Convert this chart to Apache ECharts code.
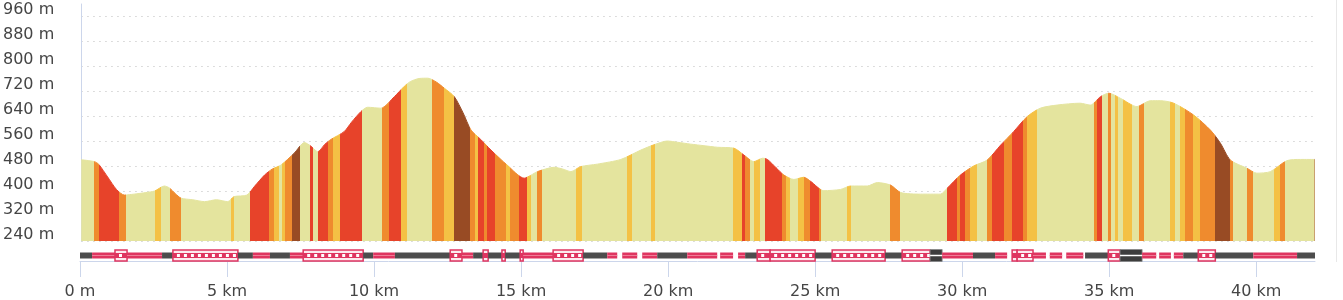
<!DOCTYPE html>
<html>
<head>
<meta charset="utf-8">
<script src="https://cdn.jsdelivr.net/npm/echarts@6/dist/echarts.min.js"></script>
<style>
html,body{margin:0;padding:0;background:#fff;}
#chart{width:1343px;height:300px;}
</style>
</head>
<body>
<div id="chart"></div>
<script>
// ---- data ----
var distanceKm = [0,0.45,0.6,0.9,1.2,1.47,1.8,2.2,2.5,2.83,3.0,3.2,3.4,3.8,4.2,4.6,4.99,5.2,5.64,5.9,6.24,6.5,6.8,7.25,7.6,7.8,8.05,8.3,8.5,8.95,9.2,9.52,9.75,10.2,10.66,11.0,11.2,11.5,11.8,12.1,12.36,12.7,13.0,13.27,13.6,13.95,14.5,15.08,15.3,15.53,16.1,16.4,16.67,17.0,17.57,18.37,19.05,19.5,19.95,20.3,20.75,21.2,21.66,22.22,22.56,22.9,23.2,23.36,23.65,23.92,24.26,24.6,24.83,25.28,25.85,26.19,26.76,27.1,27.55,27.9,28.57,29.25,29.48,29.93,30.38,30.84,31.3,31.74,32.2,32.65,33.22,34.0,34.35,34.7,34.98,35.37,35.94,36.39,36.73,37.19,37.87,38.44,38.78,39.12,39.68,40.02,40.48,41.04,41.5,42.0];
var elevationM = [500,494,485,445,405,387,390,395,400,416,410,392,377,372,366,372,366,382,387,415,451,470,483,521,555,545,526,550,565,590,620,654,668,665,702,735,750,760,761,748,729,702,650,595,565,531,483,441,450,462,476,470,462,478,486,501,531,548,560,556,550,545,540,537,515,494,505,501,475,451,437,444,431,401,405,416,416,427,419,395,390,390,409,451,480,499,547,590,638,665,675,681,675,702,713,697,670,689,689,681,643,595,553,499,473,457,462,497,501,501];

// gradient classes: 0 flat, 1 light, 2 medium, 3 steep, 4 very steep, 5 end
var bandStartKm = [0,0.44,0.59,1.29,1.52,2.52,2.70,3.02,3.39,5.09,5.20,5.74,6.39,6.56,6.73,6.85,6.95,7.17,7.45,7.78,7.88,8.05,8.40,8.58,8.80,9.57,10.25,10.48,10.87,11.10,11.95,12.35,12.69,13.25,13.42,13.50,13.70,13.80,14.10,14.45,14.60,14.90,15.17,15.30,15.50,15.68,16.85,17.05,18.57,18.74,19.38,19.52,22.20,22.50,22.60,22.75,22.90,23.10,23.29,23.85,24.00,24.12,24.40,24.60,24.82,25.10,25.20,26.07,26.20,27.54,27.88,29.47,29.81,29.93,30.10,30.27,30.49,30.83,31.00,31.40,31.68,32.07,32.20,32.55,34.46,34.57,34.74,34.97,35.07,35.20,35.30,35.48,35.76,36.00,36.18,37.06,37.23,37.40,37.57,37.86,38.08,38.59,39.10,39.22,39.70,39.88,40.60,40.80,40.98,41.95];
var bandClass   = [0,2,3,2,0,1,0,2,0,1,0,3,2,1,0,1,2,4,0,3,0,3,2,1,3,0,2,3,1,0,2,1,4,2,1,3,2,3,2,1,2,3,1,0,2,0,1,0,1,0,1,0,1,3,2,0,1,0,3,2,1,0,1,2,3,2,0,1,0,2,0,3,2,3,2,1,0,2,3,2,3,2,1,0,2,3,0,2,0,1,0,1,0,2,0,1,0,1,2,1,2,4,2,0,2,0,1,2,0,5];
var bandColors = ['#e4e49e','#f4c145','#ef8b2e','#e7432a','#984b24','#c9a070'];

// surface strip: 0 asphalt, 1 path, 2 boxed, 3 grey boxed
var surfaceStartKm = [0,0.41,1.19,1.6,2.79,3.16,5.37,5.88,6.46,7.14,7.59,9.63,9.97,10.71,12.59,12.99,13.37,13.71,13.88,14.35,14.46,14.97,15.07,16.09,17.11,17.93,18.44,19.12,19.63,20.65,21.77,22.38,22.62,23.03,23.47,25.0,25.58,27.38,27.96,28.91,29.32,30.37,31.12,31.70,31.87,32.41,32.98,33.54,34.18,34.97,35.37,36.12,36.70,37.20,37.52,38.03,38.61,39.9,41.39];
var surfaceEndKm   = [0.41,1.19,1.6,2.79,3.16,5.37,5.88,6.46,7.14,7.59,9.63,9.97,10.71,12.59,12.99,13.37,13.71,13.88,14.35,14.46,14.97,15.07,16.09,17.11,17.93,18.27,18.95,19.63,20.65,21.67,22.21,22.62,23.03,23.47,25.0,25.58,27.38,27.96,28.91,29.32,30.37,31.12,31.53,31.87,32.41,32.85,33.40,34.12,34.97,35.37,36.12,36.60,37.10,37.52,38.03,38.61,39.9,41.39,42.0];
var surfaceType    = [0,1,2,1,0,2,0,1,0,1,2,0,1,0,2,1,0,2,0,2,0,2,1,2,0,1,1,1,0,1,1,1,0,2,2,0,2,0,2,3,1,0,1,2,2,1,1,1,0,2,3,1,1,1,0,2,0,1,0];

var yTicks = [240,320,400,480,560,640,720,800,880,960];
var xTicksKm = [0,5,10,15,20,25,30,35,40];

// ---- build ----
var profile = distanceKm.map(function(d,i){return [d, elevationM[i]];});
var pieces = bandStartKm.map(function(s,i){
  var e = i < bandStartKm.length-1 ? bandStartKm[i+1] : 1000;
  return {gte: s, lt: e, color: bandColors[bandClass[i]]};
});
var surface = surfaceStartKm.map(function(s,i){return [s, surfaceEndKm[i], surfaceType[i]];});

var PINK = '#df3560', GREY = '#4d4d4d';
function renderSurface(params, api){
  var s = api.value(0), e = api.value(1), t = api.value(2);
  var p1 = api.coord([s, 0.5]), p2 = api.coord([e, 0.5]);
  var x = p1[0], w = Math.max(1, p2[0]-p1[0]), cy = p1[1];
  var ch = [];
  if (t === 0) {
    ch.push({type:'rect', shape:{x:x, y:cy-3, width:w, height:6}, style:{fill:GREY}});
  } else if (t === 1) {
    ch.push({type:'rect', shape:{x:x, y:cy-3, width:w, height:6}, style:{fill:PINK}});
    ch.push({type:'rect', shape:{x:x, y:cy-0.5, width:w, height:1}, style:{fill:'#ef7d97'}});
  } else if (t === 2) {
    ch.push({type:'rect', shape:{x:x, y:cy-5.5, width:w, height:11}, style:{fill:'#fde9ee', stroke:PINK, lineWidth:1.5}});
    ch.push({type:'rect', shape:{x:x, y:cy-2.5, width:w, height:5}, style:{fill:PINK}});
    for (var dx = 4; dx < w-2; dx += 7) {
      ch.push({type:'rect', shape:{x:x+dx, y:cy-1.5, width:3, height:3}, style:{fill:'#ffffff'}});
    }
  } else {
    ch.push({type:'rect', shape:{x:x, y:cy-6, width:w, height:12}, style:{fill:'#3d3d3d', stroke:'#888', lineWidth:0.8}});
    ch.push({type:'rect', shape:{x:x, y:cy-0.75, width:w, height:1.5}, style:{fill:'#ffffff'}});
  }
  return {type:'group', children: ch};
}

var FONT = 'DejaVu Sans';
var TXT = '#454545';
var chart = echarts.init(document.getElementById('chart'), null, {renderer:'canvas'});
chart.setOption({
  animation: false,
  backgroundColor: '#ffffff',
  grid: [
    {left: 80, top: 4, width: 1235, height: 237},
    {left: 80, top: 250, width: 1235, height: 16}
  ],
  xAxis: [
    {gridIndex: 0, type: 'value', min: 0, max: 42, show: false},
    {gridIndex: 1, type: 'value', min: 0, max: 42, interval: 5,
     axisLine: {show: true, lineStyle: {color: '#ccd6eb', width: 1}},
     axisTick: {show: true, length: 16, lineStyle: {color: '#ccd6eb'}, customValues: xTicksKm},
     splitLine: {show: false},
     axisLabel: {customValues: xTicksKm, margin: 23, fontFamily: FONT, fontSize: 16, color: TXT,
       formatter: function(v){ return v === 0 ? '0 m' : v + ' km'; }}
    }
  ],
  yAxis: [
    {gridIndex: 0, type: 'value', min: 240, max: 998.4,
     axisLine: {show: true, lineStyle: {color: '#ccd6eb', width: 1}},
     axisTick: {show: false, customValues: yTicks},
     splitLine: {show: true, lineStyle: {color: '#d2d2d2', width: 1, type: [1.5, 4.5]}},
     axisLabel: {customValues: yTicks, margin: 27, fontFamily: FONT, fontSize: 16, color: TXT,
       verticalAlign: 'bottom', lineHeight: 12,
       formatter: function(v){ return v + ' m'; }}
    },
    {gridIndex: 1, type: 'value', min: 0, max: 1, show: false}
  ],
  visualMap: {
    show: false, type: 'piecewise', seriesIndex: 0, dimension: 0,
    pieces: pieces, outOfRange: {color: bandColors[0]}
  },
  series: [
    {type: 'line', xAxisIndex: 0, yAxisIndex: 0, data: profile, showSymbol: false, smooth: 0.25,
     lineStyle: {width: 1}, areaStyle: {opacity: 1}, z: 2},
    {type: 'custom', xAxisIndex: 1, yAxisIndex: 1, data: surface, renderItem: renderSurface,
     encode: {x: [0, 1]}, clip: false, z: 3}
  ],
  graphic: [
    {type: 'line', shape: {x1: 1336.5, y1: 0, x2: 1336.5, y2: 262}, style: {stroke: '#e8e8e8', lineWidth: 1}, silent: true}
  ]
});
</script>
</body>
</html>
